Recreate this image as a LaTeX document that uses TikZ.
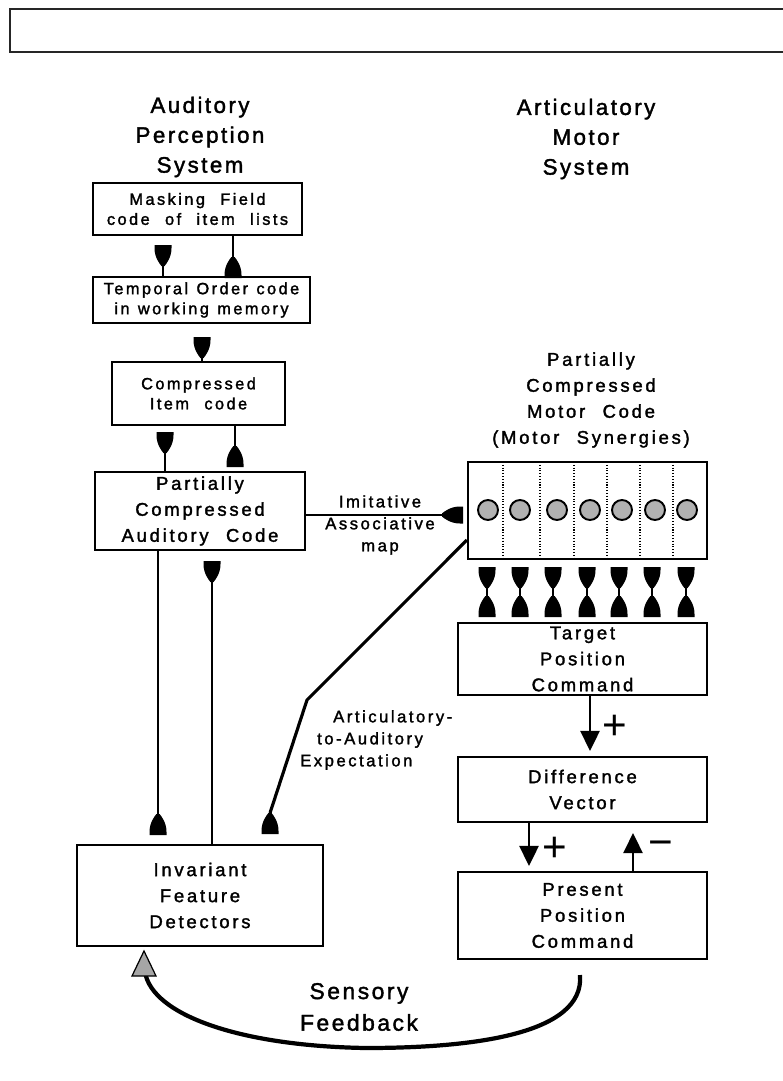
\documentclass[tikz,border=0pt]{standalone}
\usepackage{fontspec}
\setmainfont{Liberation Sans}[LetterSpace=15,WordSpace=2.2,FakeBold=1.7]
\newfontfamily\ttlfont{Liberation Sans}[LetterSpace=11,WordSpace=1.8,FakeBold=1.7]
\newfontfamily\tightfont{Liberation Sans}[LetterSpace=15,WordSpace=1.2,FakeBold=1.7]
\newfontfamily\signfont{Liberation Sans}
\usetikzlibrary{arrows.meta}
\tikzset{
  box/.style={draw, line width=1.2pt, inner sep=0pt, align=center},
  small/.style={font=\fontsize{9.3}{11.4}\selectfont},
  norm/.style={font=\fontsize{10.5}{14.8}\selectfont},
  lab/.style={font=\fontsize{9.5}{12.5}\selectfont, align=center},
  ttl/.style={font=\ttlfont\fontsize{12.7}{17}\selectfont, align=center},
  sign/.style={font=\signfont\fontsize{24}{24}\selectfont},
  conn/.style={line width=1.5pt},
  arr/.style={line width=1.5pt, -{Triangle[length=0.4cm,width=0.38cm]}},
  syn/.pic={\fill (-8.5,0) -- (-8.5,-3) .. controls (-8.5,-12) and (-4,-18) .. (-1.6,-21) -- (1.6,-21) .. controls (4,-18) and (8.5,-12) .. (8.5,-3) -- (8.5,0) -- cycle;},
}
\begin{document}
\begin{tikzpicture}[x=0.02cm,y=-0.02cm]
\useasboundingbox (0,0) rectangle (783,1081);
\fill[white] (0,0) rectangle (783,1081);
% top frame
\draw[line width=0.7pt, black!85] (783,9) -- (10,9) -- (10,52) -- (783,52);
% titles
\node[ttl] (t1) at (200,137) {Auditory\\Perception\\System};
\node[ttl] (t2) at (586,139) {Articulatory\\Motor\\System};
\node[norm, align=center] (t3) at (591,400) {Partially\\Compressed\\Motor  Code\\(Motor  Synergies)};
% left boxes
\node[box,small,minimum width=4.18cm,minimum height=1.04cm] (b1) at (197.5,209) {Masking Field\\code of item lists};
\node[box,minimum width=4.34cm,minimum height=0.92cm,font={\tightfont\fontsize{9.3}{11.4}\selectfont}] (b2) at (201.5,300) {Temporal Order code\\in working memory};
\node[box,small,minimum width=3.46cm,minimum height=1.26cm] (b3) at (198.5,393.5) {Compressed\\Item code};
\node[box,norm,minimum width=4.2cm,minimum height=1.56cm] (b4) at (200,511) {Partially\\Compressed\\Auditory Code};
\node[box,norm,minimum width=4.92cm,minimum height=2.02cm] (b5) at (200,895.5) {Invariant\\Feature\\Detectors};
% right boxes
\node[box,minimum width=4.78cm,minimum height=1.94cm] (mb) at (587.5,510.5) {};
\node[box,norm,minimum width=4.98cm,minimum height=1.44cm] (tb) at (582.5,659) {Target\\Position\\Command};
\node[box,norm,minimum width=4.98cm,minimum height=1.3cm] (db) at (582.5,789.5) {Difference\\Vector};
\node[box,norm,minimum width=4.98cm,minimum height=1.74cm] (pb) at (582.5,915.5) {Present\\Position\\Command};
% motor cells
\foreach \x in {503,540,574,607,640,673}
  \draw[densely dotted, line width=0.6pt] (\x,462) -- (\x,559);
\foreach \x in {488,520,557,590,622,655,687}
  \draw[line width=1.1pt, fill=black!30] (\x,510) circle (10);
% left column synapses
\coordinate (k1) at (163,266);
\coordinate (k2) at (233,257);
\coordinate (k3) at (202,358);
\coordinate (k4) at (165,453);
\coordinate (k5) at (235,446);
\coordinate (k6) at (158,814);
\coordinate (k7) at (212,582);
\coordinate (k8) at (442,515);
\pic[rotate=180] at (163,245) {syn};
\pic at (233,278) {syn};
\pic[rotate=180] at (202,337) {syn};
\pic[rotate=180] at (165,432) {syn};
\pic at (235,467) {syn};
\pic at (158,835) {syn};
\pic[rotate=180] at (212,561) {syn};
\pic[rotate=90] at (463,515) {syn};
\draw[conn] (b2.north -| k1) -- (k1);
\draw[conn] (b1.south -| k2) -- (k2);
\draw[conn] (b3.north -| k3) -- (k3);
\draw[conn] (b4.north -| k4) -- (k4);
\draw[conn] (b3.south -| k5) -- (k5);
\draw[conn] (b4.south -| k6) -- (k6);
\draw[conn] (b5.north -| k7) -- (k7);
\draw[conn] (b4.east |- k8) -- (k8);
% articulatory-to-auditory
\coordinate (a0) at (468,540);
\coordinate (a1) at (307,700);
\coordinate (a2) at (270,813);
\pic at (270,834) {syn};
\draw[conn, line width=1.8pt] (mb.west |- a0) -- (a1) -- (a2);
% motor synapses
\foreach \x [count=\i] in {487,520,553,587,619,652,686} {
  \pic[rotate=180] at (\x,567) {syn};
  \pic at (\x,617) {syn};
  \coordinate (mu\i) at (\x,587);
  \coordinate (md\i) at (\x,597);
  \draw[conn] (mu\i) -- (md\i);
}
% labels
\node[lab] (l1) at (380,525) {Imitative\\Associative\\map};
\node[lab, anchor=west] (l2) at (327,718) {Articulatory-};
\node[lab, anchor=west] (l3) at (311,740) {to-Auditory};
\node[lab, anchor=west] (l4) at (294,762) {Expectation};
% motor arrows
\coordinate (x1) at (590,0);
\coordinate (x2) at (529,0);
\coordinate (x3) at (633,0);
\draw[arr, shorten >=0.1cm] (tb.south -| x1) -- (db.north -| x1);
\draw[arr, shorten >=0.1cm] (db.south -| x2) -- (pb.north -| x2);
\draw[arr, shorten >=0.2cm] (pb.north -| x3) -- (db.south -| x3);
\node[sign] (p1) at (615,727) {+};
\node[sign] (p2) at (555,849) {+};
\node[sign] (m1) at (661,849) {−};
% sensory feedback
\coordinate (s0) at (580,975);
\coordinate (s1) at (145,972);
\coordinate (tip) at (144,951);
\draw[line width=2.4pt] (s0) .. controls (585,1035) and (470,1048) .. (366,1048) .. controls (240,1046) and (152,1015) .. (s1);
\draw[line width=0.7pt, fill=black!35] (tip) -- (132,976) -- (156,976) -- cycle;
\node[ttl, font=\ttlfont\fontsize{13}{18}\selectfont] (sf) at (359,1007) {Sensory\\Feedback};
\end{tikzpicture}
\end{document}
